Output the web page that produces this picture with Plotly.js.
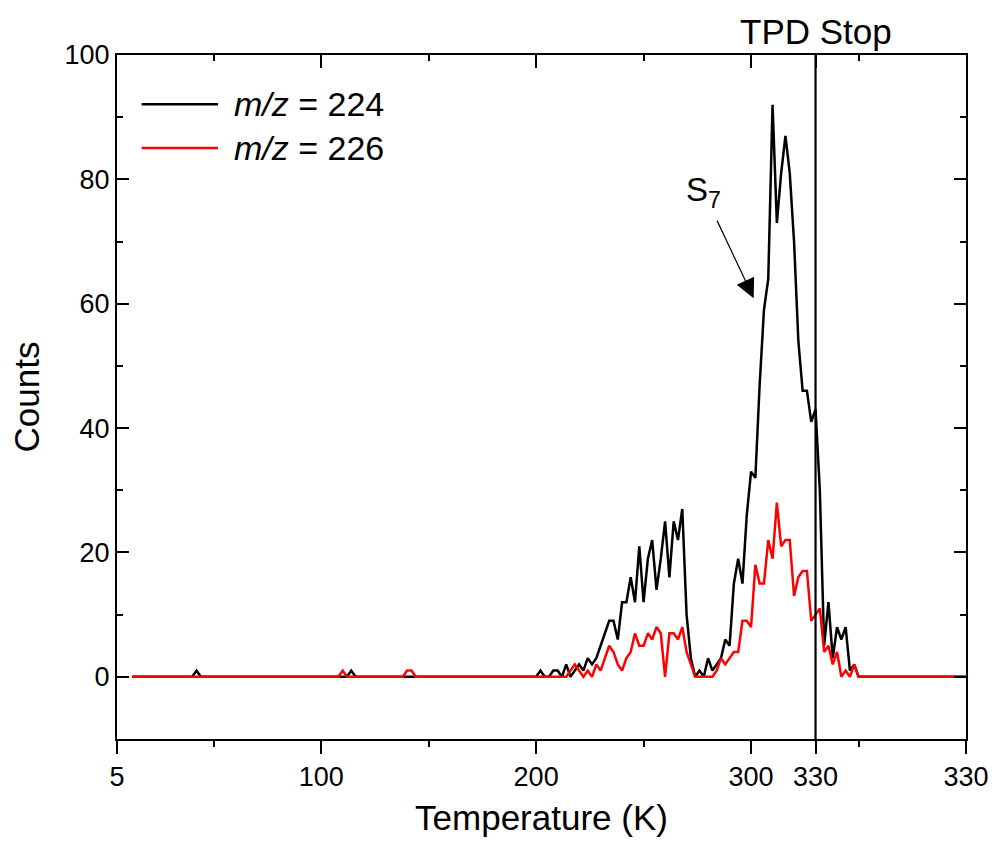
<!DOCTYPE html>
<html>
<head>
<meta charset="utf-8">
<script src="https://cdn.plot.ly/plotly-3.0.1.min.js"></script>
<style>
  html, body { margin: 0; padding: 0; background: #ffffff; }
  #chart { width: 995px; height: 848px; }
</style>
</head>
<body>
<div id="chart"></div>
<script>
// TPD scan: ramp to 330 K, then hold (TPD stop). x = nominal ramp coordinate (K).
const tempTickVals = [5, 100, 200, 300, 330, 400];
const tempTickText = ['5', '100', '200', '300', '330', '330'];
const tpdStop = 330;

// m/z = 224 counts (vertices of the measured trace)
const temp224 = [12, 40, 42, 44, 112, 114, 116, 200, 202, 204, 206, 208, 210, 212, 214, 216, 218, 220,
  222, 224, 226, 228, 230, 232, 234, 236, 238, 240, 242, 244, 246, 248, 250, 252, 254, 256, 258, 260,
  262, 264, 266, 268, 270, 272, 274, 276, 278, 280, 282, 284, 286, 288, 290, 292, 294, 296, 298, 300,
  302, 304, 306, 308, 310, 312, 314, 316, 318, 320, 322, 324, 326, 328, 330, 332, 334, 336, 338, 340,
  342, 344, 346, 348, 350, 400];
const counts224 = [0, 0, 1, 0, 0, 1, 0, 0, 1, 0, 0, 1, 1, 0, 2, 0, 1, 2,
  1, 3, 2, 3, 5, 7, 9, 9, 6, 12, 12, 16, 12, 21, 12, 19, 22, 14, 19, 25,
  16, 25, 22, 27, 10, 3, 0, 1, 0, 3, 1, 2, 3, 6, 5, 15, 19, 15, 26, 33,
  32, 47, 59, 64, 92, 73, 81, 87, 81, 70, 54, 46, 46, 41, 43, 30, 5, 12, 3, 8,
  6, 8, 1, 2, 0, 0];

// m/z = 226 counts
const temp226 = [12, 108, 110, 112, 138, 140, 142, 144, 214, 216, 218, 220, 222, 224, 226, 228, 230,
  232, 234, 236, 238, 240, 242, 244, 246, 248, 250, 252, 254, 256, 258, 260, 262, 264, 266, 268, 270,
  272, 274, 282, 284, 286, 288, 290, 292, 294, 296, 298, 300, 302, 304, 306, 308, 310, 312, 314, 316,
  318, 320, 322, 324, 326, 328, 330, 332, 334, 336, 338, 340, 342, 344, 346, 348, 350, 400];
const counts226 = [0, 0, 1, 0, 0, 1, 1, 0, 0, 1, 2, 1, 0, 1, 0, 2, 1,
  3, 5, 4, 2, 1, 3, 4, 7, 5, 5, 7, 6, 8, 7, 0, 7, 7, 6, 8, 4,
  2, 0, 0, 1, 3, 2, 3, 4, 4, 9, 9, 8, 18, 15, 15, 22, 19, 28, 21, 22,
  22, 13, 16, 17, 17, 9, 10, 11, 4, 5, 2, 4, 0, 1, 0, 2, 0, 0];

const seriesNames = ['<i>m/z</i> = 224', '<i>m/z</i> = 226'];
const seriesColors = ['#000000', '#ff0000'];

// S7 desorption feature pointed at on the m/z = 224 rise
const s7Point = { x: 301.2, y: 60.9 };

const FONT = 'Liberation Sans, Arial, sans-serif';

const traces = [
  {
    x: temp224, y: counts224, type: 'scatter', mode: 'lines', name: seriesNames[0],
    line: { color: seriesColors[0], width: 2.5 }, showlegend: false, hoverinfo: 'x+y'
  },
  {
    x: temp226, y: counts226, type: 'scatter', mode: 'lines', name: seriesNames[1],
    line: { color: seriesColors[1], width: 2.5 }, showlegend: false, hoverinfo: 'x+y'
  },
  // carrier for the top (inward-ticked) axis
  {
    x: [tempTickVals[0], tempTickVals[tempTickVals.length - 1]], y: [null, null],
    xaxis: 'x2', yaxis: 'y', type: 'scatter', mode: 'lines', showlegend: false, hoverinfo: 'skip'
  }
];

const xRange = [5, 400];
const commonX = {
  range: xRange, tickmode: 'array', tickvals: tempTickVals, ticktext: tempTickText,
  showline: true, linecolor: '#000', linewidth: 2, showgrid: false, zeroline: false,
  tickcolor: '#000', tickwidth: 2,
  minor: { tickmode: 'linear', tick0: 0, dtick: 50, ticklen: 6, tickwidth: 2, tickcolor: '#000' }
};

const layout = {
  width: 995, height: 848,
  margin: { l: 117, r: 29, t: 55, b: 109 },
  paper_bgcolor: '#ffffff', plot_bgcolor: '#ffffff',
  font: { family: FONT, color: '#000', size: 27 },
  showlegend: false,
  xaxis: Object.assign({}, commonX, {
    ticks: 'outside', ticklen: 13,
    tickfont: { family: FONT, size: 27, color: '#000' },
    title: { text: 'Temperature (K)', font: { family: FONT, size: 35, color: '#000' }, standoff: 14 },
    minor: Object.assign({}, commonX.minor, { ticks: 'outside' })
  }),
  xaxis2: Object.assign({}, commonX, {
    overlaying: 'x', side: 'top', anchor: 'y', matches: 'x',
    ticks: 'inside', ticklen: 13, showticklabels: false,
    minor: Object.assign({}, commonX.minor, { ticks: 'inside' })
  }),
  yaxis: {
    range: [-10, 100], tickmode: 'linear', tick0: 0, dtick: 20,
    ticks: 'inside', ticklen: 12, tickwidth: 2, tickcolor: '#000',
    showline: true, linecolor: '#000', linewidth: 2, mirror: 'ticks',
    showgrid: false, zeroline: false,
    tickfont: { family: FONT, size: 27, color: '#000' },
    title: { text: 'Counts', font: { family: FONT, size: 35, color: '#000' }, standoff: 14 },
    minor: { tickmode: 'linear', tick0: 0, dtick: 10, ticks: 'inside', ticklen: 6, tickwidth: 2, tickcolor: '#000' }
  },
  shapes: [
    // TPD stop marker
    { type: 'line', xref: 'x', yref: 'paper', x0: tpdStop, x1: tpdStop, y0: 0, y1: 1,
      line: { color: '#000', width: 2.2 } },
    // legend line samples
    { type: 'line', xref: 'paper', yref: 'paper', x0: 0.029, x1: 0.119, y0: 0.928, y1: 0.928,
      line: { color: seriesColors[0], width: 2.5 } },
    { type: 'line', xref: 'paper', yref: 'paper', x0: 0.029, x1: 0.119, y0: 0.864, y1: 0.864,
      line: { color: seriesColors[1], width: 2.5 } }
  ],
  annotations: [
    { xref: 'paper', yref: 'paper', x: 0.135, y: 0.928, xanchor: 'left', yanchor: 'middle',
      text: seriesNames[0], showarrow: false, font: { family: FONT, size: 34, color: '#000' } },
    { xref: 'paper', yref: 'paper', x: 0.135, y: 0.864, xanchor: 'left', yanchor: 'middle',
      text: seriesNames[1], showarrow: false, font: { family: FONT, size: 34, color: '#000' } },
    { xref: 'x', yref: 'paper', x: tpdStop, y: 1, xanchor: 'center', yanchor: 'bottom', yshift: 2,
      text: 'TPD Stop', showarrow: false, font: { family: FONT, size: 35, color: '#000' } },
    { xref: 'x', yref: 'y', x: s7Point.x, y: s7Point.y, ax: -50, ay: -106,
      text: 'S<sub>7</sub>', font: { family: FONT, size: 33, color: '#000' }, borderpad: 7,
      showarrow: true, arrowhead: 2, arrowsize: 3.2, arrowwidth: 1.2, arrowcolor: '#000', standoff: 0 }
  ]
};

Plotly.newPlot('chart', traces, layout, { displayModeBar: false, staticPlot: true });
</script>
</body>
</html>
